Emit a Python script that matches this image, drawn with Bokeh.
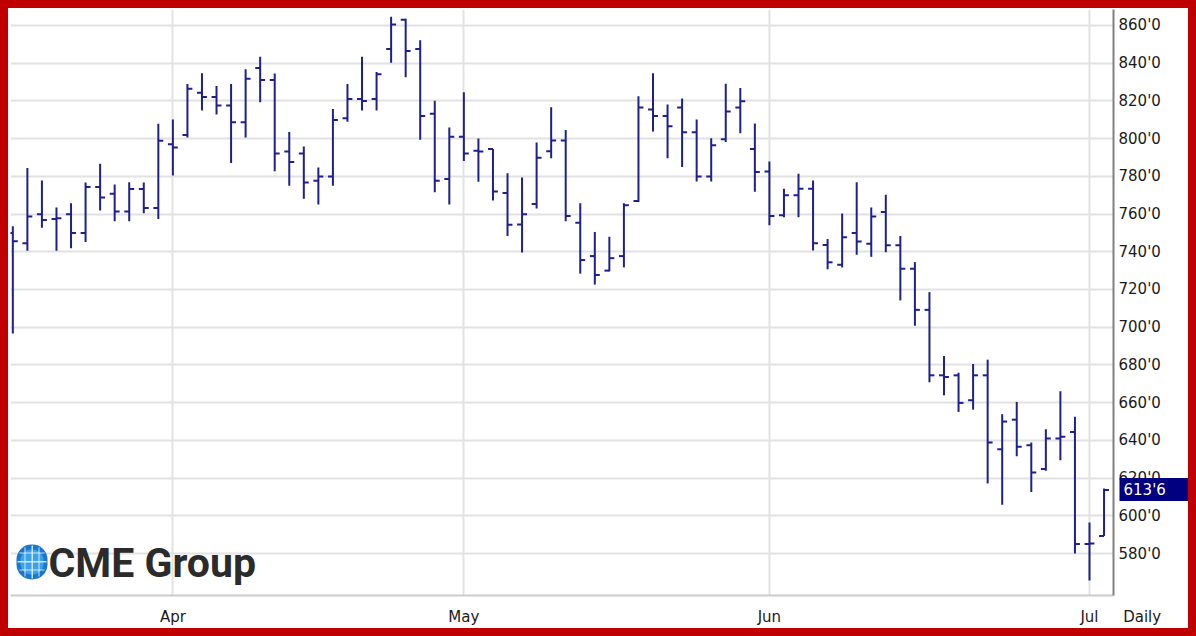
import pandas as pd
from bokeh.plotting import figure
from bokeh.models import FixedTicker, Label, BoxAnnotation, Range1d, ColumnDataSource, LinearAxis
from bokeh.transform import dodge
from bokeh.embed import file_html
from bokeh.resources import INLINE

# ---- data -------------------------------------------------------------
start_date = "2011-03-17"
end_date = "2011-07-05"
holidays = ["2011-04-22", "2011-05-30", "2011-07-04"]

opens = [750.0, 744.5, 759.9, 757.3, 759.9, 749.9, 774.3, 770.8, 761.3, 773.2,
         763.2, 797.0, 801.9, 824.3, 822.0, 817.5, 808.7, 837.4, 831.0, 793.2,
         792.1, 777.6, 779.9, 810.8, 821.0, 821.0, 847.4, 863.0, 847.4, 813.1,
         778.6, 801.0, 793.5, 794.4, 771.1, 754.4, 765.3, 793.3, 798.9, 755.4,
         737.7, 730.0, 737.7, 766.9, 815.4, 811.9, 816.4, 803.3, 779.9, 799.6,
         816.4, 794.4, 782.5, 759.4, 769.9, 773.4, 743.6, 733.1, 749.9, 744.3,
         761.1, 743.5, 731.0, 709.2, 674.5, 674.5, 661.3, 674.5, 635.3, 651.0,
         637.5, 624.8, 641.0, 644.5, 585.1, 589.3]
highs = [753.5, 784.4, 777.8, 763.4, 765.7, 776.7, 786.7, 775.7, 776.9, 776.7,
         807.9, 810.1, 828.9, 834.6, 827.8, 828.9, 836.7, 843.4, 834.5, 803.5,
         795.8, 784.6, 815.7, 828.9, 843.4, 835.3, 864.5, 863.5, 852.1, 820.1,
         805.8, 824.5, 800.0, 794.4, 781.6, 779.4, 797.9, 816.6, 804.5, 765.7,
         750.5, 748.0, 765.7, 822.4, 834.6, 818.0, 821.2, 810.1, 800.2, 829.0,
         826.8, 808.0, 787.9, 773.4, 781.3, 777.8, 746.8, 760.3, 776.9, 763.4,
         770.2, 748.4, 734.5, 718.6, 684.7, 675.9, 680.5, 682.8, 653.9, 660.4,
         638.9, 645.9, 666.0, 652.5, 596.5, 614.5]
lows = [696.7, 740.5, 752.7, 740.5, 741.9, 745.2, 761.8, 756.2, 756.2, 760.4,
        757.3, 780.4, 800.5, 814.9, 812.8, 787.0, 800.5, 819.2, 782.7, 775.0,
        768.1, 765.0, 775.0, 808.9, 814.9, 814.9, 840.2, 832.5, 799.3, 771.6,
        765.0, 788.1, 777.1, 767.1, 748.4, 739.6, 762.9, 789.5, 756.2, 728.4,
        722.6, 729.6, 731.7, 766.4, 803.8, 789.5, 784.9, 777.2, 777.2, 798.2,
        802.8, 771.8, 754.1, 758.3, 758.3, 740.7, 730.7, 731.7, 738.4, 737.3,
        739.8, 714.2, 700.8, 670.8, 663.9, 655.1, 656.3, 617.2, 605.9, 631.6,
        612.6, 623.9, 629.5, 580.1, 565.7, 589.3]
closes = [745.5, 758.7, 756.8, 757.8, 749.9, 774.3, 768.7, 761.3, 773.2, 763.2,
          798.8, 795.3, 826.4, 822.0, 817.5, 808.7, 831.7, 831.0, 792.1, 787.6,
          776.7, 779.9, 809.8, 821.0, 819.9, 834.1, 860.5, 846.4, 811.9, 777.6,
          801.0, 792.1, 793.2, 772.0, 754.3, 759.9, 789.8, 798.9, 758.9, 735.6,
          727.7, 736.6, 764.6, 816.4, 811.9, 806.5, 803.3, 779.9, 796.5, 814.3,
          819.8, 782.3, 758.9, 769.9, 773.4, 744.5, 734.4, 747.7, 745.4, 758.7,
          743.5, 731.0, 709.2, 674.5, 673.6, 659.9, 674.5, 638.9, 650.0, 636.6,
          623.0, 641.0, 641.9, 585.1, 585.4, 613.75]

y_ticks = [580, 600, 620, 640, 660, 680, 700, 720, 740, 760, 780, 800, 820, 840, 860]
y_tick_labels = ["580'0", "600'0", "620'0", "640'0", "660'0", "680'0", "700'0", "720'0",
                 "740'0", "760'0", "780'0", "800'0", "820'0", "840'0", "860'0"]
last_value = 613.75
last_label = "613'6"
period_label = "Daily"
logo_text = "CME Group"

# ---- trading-day index --------------------------------------------------
dates = pd.bdate_range(start_date, end_date)
dates = dates[~dates.isin(pd.to_datetime(holidays))]
idx = list(range(len(dates)))
month_ticks = [i for i in idx if i > 0 and dates[i].month != dates[i - 1].month]
x_labels = {i: dates[i].strftime("%b") for i in month_ticks}
x_labels[idx[-1]] = "\u00a0" * 16 + period_label   # period caption right of the last bar

src = ColumnDataSource(dict(x=idx, o=opens, h=highs, l=lows, c=closes))

FONT = "DejaVu Sans"
BAR = "#1f1f8f"
GRID = "#e2e2e2"

p = figure(width=1180, height=620, output_backend="svg", toolbar_location=None,
           margin=(8, 8, 8, 8),
           x_range=Range1d(-0.16, len(idx) - 1 + 0.65), y_range=Range1d(557.8, 868.4),
           y_axis_location="right",
           min_border_left=2, min_border_right=75, min_border_top=1, min_border_bottom=30,
           background_fill_color="white", border_fill_color="white",
           outline_line_color=None)
p.styles = {"outline": "8px solid #c00000"}

# grids
p.xgrid.ticker = FixedTicker(ticks=month_ticks)
p.ygrid.ticker = FixedTicker(ticks=y_ticks)
for g in (p.xgrid, p.ygrid):
    g.grid_line_color = GRID
    g.grid_line_width = 2

# axes
p.xaxis.ticker = FixedTicker(ticks=month_ticks + [idx[-1]])
p.xaxis.major_label_overrides = x_labels
p.yaxis.ticker = FixedTicker(ticks=y_ticks)
p.yaxis.major_label_overrides = {t: s for t, s in zip(y_ticks, y_tick_labels)}
for ax in (p.xaxis, p.yaxis):
    ax.major_tick_line_color = None
    ax.minor_tick_line_color = None
    ax.major_tick_out = 0
    ax.major_tick_in = 0
    ax.minor_tick_out = 0
    ax.minor_tick_in = 0
    ax.major_label_text_font = FONT
    ax.major_label_text_font_size = "15px"
    ax.major_label_text_color = "#1a1a1a"
p.xaxis.axis_line_color = "#cccccc"
p.xaxis.axis_line_width = 2
p.xaxis.major_label_standoff = 12
p.yaxis.axis_line_color = "#808080"
p.yaxis.axis_line_width = 2
p.yaxis.major_label_standoff = 5

# last-price marker: a second right axis whose single tick is drawn as a navy box
last_axis = LinearAxis(ticker=FixedTicker(ticks=[last_value]),
                       major_label_overrides={last_value: last_label},
                       axis_line_color=None,
                       major_tick_line_color="#000080", major_tick_line_width=23,
                       major_tick_line_cap="butt",
                       major_tick_in=44, major_tick_out=36,
                       minor_tick_line_color=None, minor_tick_in=0, minor_tick_out=0,
                       major_label_standoff=-76,
                       major_label_text_font=FONT, major_label_text_font_size="15px",
                       major_label_text_color="white")
p.add_layout(last_axis, "right")

# logo (drawn under the bars)
p.add_layout(BoxAnnotation(left=6, right=37, bottom=16, top=51,
                           left_units="screen", right_units="screen",
                           bottom_units="screen", top_units="screen",
                           fill_color="#1b78c8", fill_alpha=1.0, line_color=None,
                           border_radius=15, level="underlay"))
p.add_layout(BoxAnnotation(left=10, right=33, bottom=21, top=46,
                           left_units="screen", right_units="screen",
                           bottom_units="screen", top_units="screen",
                           fill_color="#3ea2ea", fill_alpha=1.0, line_color=None,
                           border_radius=11, level="underlay"))
for (l, r, b, t) in [(7, 36, 33, 34.5), (9, 34, 25, 26), (9, 34, 42, 43),
                     (21, 22.5, 17, 50), (14, 15, 19, 48), (28, 29, 19, 48)]:
    p.add_layout(BoxAnnotation(left=l, right=r, bottom=b, top=t,
                               left_units="screen", right_units="screen",
                               bottom_units="screen", top_units="screen",
                               fill_color="#e2f3ff", fill_alpha=0.85, line_color=None,
                               level="underlay"))
p.add_layout(Label(x=38, y=33, x_units="screen", y_units="screen", text=logo_text,
                   text_font="Roboto", text_font_style="bold", text_font_size="41px",
                   text_color="#2b2b2b", text_baseline="alphabetic", level="underlay"))

# OHLC bars
p.segment(x0="x", y0="l", x1="x", y1="h", source=src, line_color=BAR, line_width=2)
p.segment(x0=dodge("x", -0.34), y0="o", x1="x", y1="o", source=src, line_color=BAR, line_width=2)
p.segment(x0="x", y0="c", x1=dodge("x", 0.34), y1="c", source=src, line_color=BAR, line_width=2)

open("out.html", "w").write(file_html(p, INLINE))
